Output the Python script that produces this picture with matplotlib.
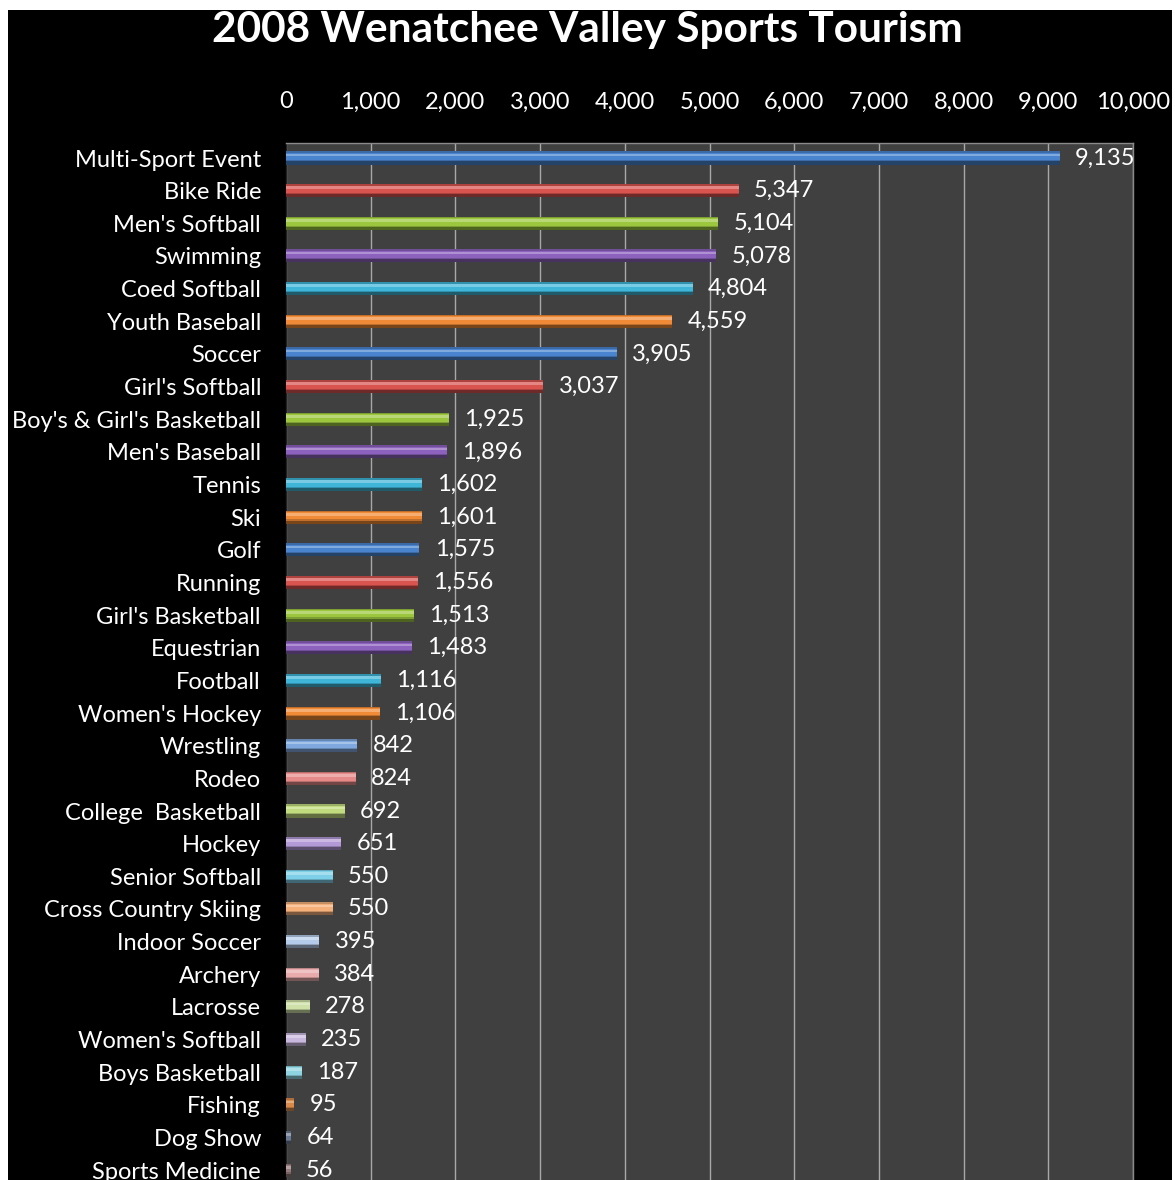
import matplotlib
matplotlib.use("Agg")
import matplotlib.pyplot as plt
from matplotlib.patches import Rectangle
import matplotlib.colors as mcolors
import numpy as np

categories = ["Multi-Sport Event", "Bike Ride", "Men's Softball", "Swimming", "Coed Softball",
              "Youth Baseball", "Soccer", "Girl's Softball", "Boy's & Girl's Basketball",
              "Men's Baseball", "Tennis", "Ski", "Golf", "Running", "Girl's Basketball",
              "Equestrian", "Football", "Women's Hockey", "Wrestling", "Rodeo",
              "College  Basketball", "Hockey", "Senior Softball", "Cross Country Skiing",
              "Indoor Soccer", "Archery", "Lacrosse", "Women's Softball", "Boys Basketball",
              "Fishing", "Dog Show", "Sports Medicine"]
values = [9135, 5347, 5104, 5078, 4804, 4559, 3905, 3037, 1925, 1896, 1602, 1601, 1575,
          1556, 1513, 1483, 1116, 1106, 842, 824, 692, 651, 550, 550, 395, 384, 278, 235,
          187, 95, 64, 56]
xticks = [0, 1000, 2000, 3000, 4000, 5000, 6000, 7000, 8000, 9000, 10000]
title = "2008 Wenatchee Valley Sports Tourism"

palette = ["#4A84CF", "#D9534F", "#9CC63E", "#8C62BE", "#3FB5D8", "#F08A36",
           "#4A84CF", "#D9534F", "#9CC63E", "#8C62BE", "#3FB5D8", "#F08A36",
           "#4A84CF", "#D9534F", "#9CC63E", "#8C62BE", "#3FB5D8", "#F08A36",
           "#7FA8DE", "#E58A88", "#C1DC7E", "#B39AD6", "#7DD0E8", "#F5B07A",
           "#B4CCEA", "#E8AAAA", "#CFE0A8", "#C9B8DE", "#8ED4E0", "#D98A4A",
           "#6A7A94", "#94787A"]

plt.rcParams['font.family'] = ['Lato', 'DejaVu Sans']

W, H = 1175, 1180
fig = plt.figure(figsize=(W / 100, H / 100), dpi=100, facecolor="white")
bg = Rectangle((8 / W, 0), (1172 - 8) / W, (H - 10) / H,
               transform=fig.transFigure, facecolor="black",
               edgecolor="none", zorder=-10)
fig.add_artist(bg)

pitch = 32.65
top_px = 143
ylim_top = -0.46
ylim_bot = 31.6
ax_h_px = (ylim_bot - ylim_top) * pitch
left = 286 / W
right = 1133 / W
ax = fig.add_axes([left, (H - top_px - ax_h_px) / H, right - left, ax_h_px / H])
ax.set_facecolor("#404040")

y = np.arange(len(categories))
h = 0.40


def shade(c, f):
    r, g, b = mcolors.to_rgb(c)
    if f >= 0:
        return (r + (1 - r) * f, g + (1 - g) * f, b + (1 - b) * f)
    return (r * (1 + f), g * (1 + f), b * (1 + f))


for i, (v, c) in enumerate(zip(values, palette)):
    ax.barh(i, v, height=h, color=shade(c, -0.2), edgecolor="none", zorder=3)
    ax.barh(i - h * 0.1, v, height=h * 0.55, color=c, edgecolor="none", zorder=4)
    ax.barh(i - h * 0.22, v, height=h * 0.2, color=shade(c, 0.3), edgecolor="none", zorder=5)
    ax.barh(i + h * 0.38, v, height=h * 0.24, color=shade(c, -0.5), edgecolor="none", zorder=5)
    ax.annotate(f"{v:,}", xy=(v, i), xytext=(11, 0), textcoords="offset points",
                ha="left", va="center", color="white", fontsize=17, zorder=6)

ax.set_xlim(0, 10000)
ax.set_ylim(ylim_bot, ylim_top)
ax.set_yticks(y)
ax.set_yticklabels(categories)
ax.set_xticks(xticks)
ax.set_xticklabels([f"{t:,}" for t in xticks])
ax.xaxis.tick_top()
ax.tick_params(axis="x", length=0, pad=22, colors="white", labelsize=17)
ax.tick_params(axis="y", length=0, pad=18, colors="white", labelsize=17)
ax.grid(axis="x", color="#a8a8a8", linewidth=1.0, zorder=1)
ax.set_axisbelow(True)
for s in ax.spines.values():
    s.set_color("#8a8a8a")
    s.set_linewidth(1.0)
ax.spines["left"].set_color("#202020")

fig.text(0.5, 1 - 30 / H, title, ha="center", va="center", color="white",
         fontsize=30.5, fontweight="bold")

fig.savefig("out.png", dpi=100, facecolor=fig.get_facecolor())
